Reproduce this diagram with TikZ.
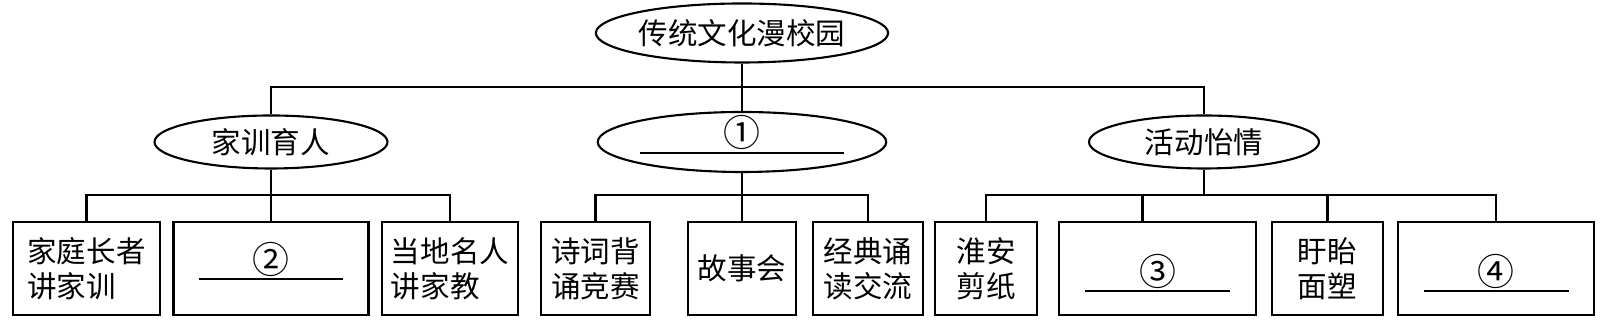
\documentclass[tikz,border=0pt]{standalone}
\usepackage{fontspec}
\setmainfont{Noto Sans CJK SC}
\usetikzlibrary{shapes.geometric}
\newcommand\blankline[3]{\raisebox{-#3}[0pt][0pt]{\vbox{\hbox to #1{\hfil\fontsize{10.5}{10}\selectfont#2\hfil}\kern0.5pt\hrule height 0.6pt}}}

\begin{document}
\begin{tikzpicture}[
    x=0.1mm, y=-0.1mm,
    ell/.style={ellipse,draw,line width=0.6pt,inner sep=0pt,font=\fontsize{8.4}{10}\selectfont},
    blk/.style={rectangle,draw,line width=0.6pt,inner sep=0pt,minimum height=9.3mm,align=left,font=\fontsize{8.4}{10}\selectfont},
    link/.style={line width=0.6pt}
]
\useasboundingbox (0,0) rectangle (1608,324);

% Top
\node[ell,minimum width=28.4mm,minimum height=5.9mm] (root) at (742,33) {传统文化漫校园};

% Second level
\node[ell,minimum width=23.3mm,minimum height=5.3mm] (fam) at (271,142) {家训育人};
\node[ell,minimum width=28.5mm,minimum height=6mm] (mid) at (742,142) {\blankline{20.4mm}{①}{1.2mm}};
\node[ell,minimum width=23mm,minimum height=5.3mm] (act) at (1204,142) {活动怡情};

% Third level
\foreach \n/\x/\w/\t in {
    b1/86.5/14.7/{家庭长者\\讲家训},
    b2/271/19.5/{\blankline{14.4mm}{②}{1.2mm}},
    b3/450/13.6/{当地名人\\讲家教},
    b4/595.5/10.9/{诗词背\\诵竞赛},
    b5/742/10.8/{故事会},
    b6/868/11/{经典诵\\读交流},
    b7/986/10.2/{淮安\\剪纸},
    b8/1157.5/19.7/{\blankline{14.5mm}{③}{2.4mm}},
    b9/1327.5/11.1/{盱眙\\面塑},
    b10/1496/19.6/{\blankline{14.5mm}{④}{2.4mm}}}
    \node[blk,minimum width=\w mm] (\n) at (\x,268.5) {\t};

% Connectors
\coordinate (topbus) at (742,87);
\coordinate (lbus) at (271,195);
\coordinate (rbus) at (1204,195);
\coordinate (c8) at ([xshift=-1.5mm]b8.north);
\draw[link] (root) -- (mid);
\draw[link] (fam.north) |- (topbus) -| (act.north);
\draw[link] (fam) -- (b2);
\draw[link] (b1.north) |- (lbus) -| (b3.north);
\draw[link] (mid) -- (b5);
\draw[link] (b4.north) |- (mid |- lbus) -| (b6.north);
\draw[link] (act) -- (rbus);
\draw[link] (b7.north) |- (rbus) -| (b10.north);
\draw[link] (c8) -- (c8 |- rbus);
\draw[link] (b9.north) -- (b9.north |- rbus);
\end{tikzpicture}
\end{document}
